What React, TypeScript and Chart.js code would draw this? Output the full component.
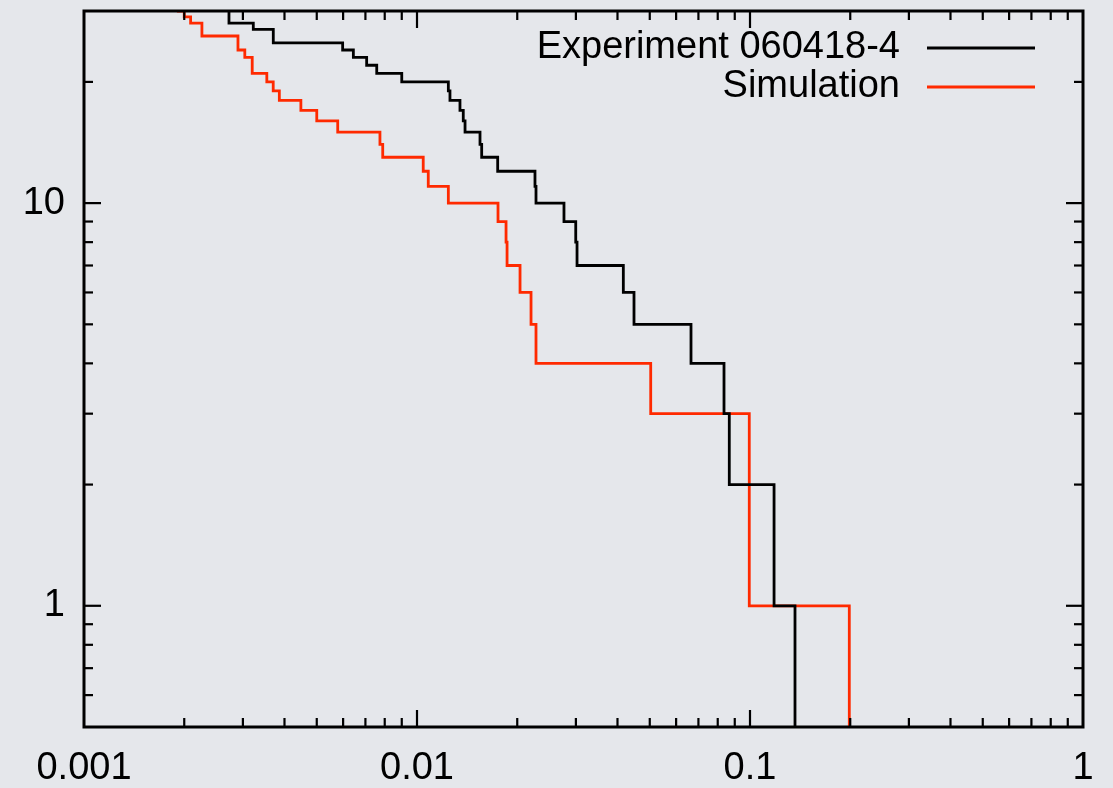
import React, { useEffect, useRef } from 'react';
import { Chart, registerables } from 'chart.js';

Chart.register(...registerables);

// Event size thresholds (x) where each horizontal step starts, and the count level of that step
const expX = [0.001, 0.002725, 0.003224, 0.003702, 0.00598, 0.00644, 0.00706, 0.00757, 0.009, 0.01242, 0.01256, 0.01346, 0.01377, 0.01394, 0.01546, 0.01564, 0.01747, 0.02261, 0.02277, 0.02763, 0.02997, 0.03024, 0.04165, 0.04484, 0.0665, 0.08355, 0.08666, 0.1181, 0.1365];
const expN = [32, 28, 27, 25, 24, 23, 22, 21, 20, 19, 18, 17, 16, 15, 14, 13, 12, 11, 10, 9, 8, 7, 6, 5, 4, 3, 2, 1, 0.3];

const simX = [0.001, 0.00192, 0.002, 0.00209, 0.00226, 0.0029, 0.00304, 0.0032, 0.00354, 0.0037, 0.00386, 0.00448, 0.005, 0.00578, 0.00774, 0.00789, 0.01044, 0.01081, 0.01242, 0.01751, 0.01851, 0.01864, 0.02039, 0.022, 0.02277, 0.05033, 0.0995, 0.1987];
const simN = [32, 30, 29, 28, 26, 24, 23, 21, 20, 19, 18, 17, 16, 15, 14, 13, 12, 11, 10, 9, 8, 7, 6, 5, 4, 3, 1, 0.3];

const seriesLabels = ['Experiment 060418-4', 'Simulation'];
const seriesColors = ['#000000', '#ff2a00'];

const xTickLabels = ['0.001', '0.01', '0.1', '1'];
const yTickLabels = ['1', '10'];

const FONT = '"Liberation Sans", Arial, Helvetica, sans-serif';

function isDecade(v: number) {
  const l = Math.log10(v);
  return Math.abs(l - Math.round(l)) < 1e-6;
}

function labelFor(v: number, labels: string[]) {
  const hit = labels.find((s) => Math.abs(Math.log10(parseFloat(s)) - Math.log10(v)) < 1e-6);
  return hit === undefined ? null : hit;
}

// log-scale tick values 1..9 x 10^e within [min, max]
function logTicks(min: number, max: number) {
  const out: number[] = [];
  for (let e = Math.floor(Math.log10(min)); e <= Math.ceil(Math.log10(max)); e++) {
    for (let m = 1; m <= 9; m++) {
      const v = parseFloat((m * Math.pow(10, e)).toPrecision(6));
      if (v >= min * 0.999999 && v <= max * 1.000001) out.push(v);
    }
  }
  return out;
}

const framePlugin = {
  id: 'frameTicksLegend',
  afterDatasetsDraw(chart: any) {
    const { ctx, chartArea: a, scales } = chart;
    ctx.save();
    ctx.strokeStyle = '#000';
    ctx.lineWidth = 2.2;
    const seg = (x1: number, y1: number, x2: number, y2: number) => {
      ctx.beginPath();
      ctx.moveTo(x1, y1);
      ctx.lineTo(x2, y2);
      ctx.stroke();
    };
    for (const v of logTicks(scales.x.min, scales.x.max)) {
      const px = scales.x.getPixelForValue(v);
      if (px <= a.left + 1 || px >= a.right - 1) continue;
      const len = isDecade(v) ? 17 : 9;
      seg(px, a.bottom, px, a.bottom - len);
      seg(px, a.top, px, a.top + len);
    }
    for (const v of logTicks(scales.y.min, scales.y.max)) {
      const py = scales.y.getPixelForValue(v);
      if (py <= a.top + 1 || py >= a.bottom - 1) continue;
      const len = isDecade(v) ? 17 : 9;
      seg(a.left, py, a.left + len, py);
      seg(a.right, py, a.right - len, py);
    }
    ctx.lineWidth = 3;
    ctx.strokeRect(a.left, a.top, a.right - a.left, a.bottom - a.top);

    // legend (top-right, inside plot)
    ctx.font = `38px ${FONT}`;
    ctx.textAlign = 'right';
    ctx.textBaseline = 'middle';
    chart.data.datasets.forEach((ds: any, i: number) => {
      const y = a.top + 37 + i * 39;
      ctx.fillStyle = '#000';
      ctx.fillText(ds.label, a.right - 183, y);
      ctx.strokeStyle = ds.borderColor;
      ctx.lineWidth = 2.8;
      seg(a.right - 156, y, a.right - 48, y);
    });
    ctx.restore();
  },
};

export default function App() {
  const ref = useRef<HTMLCanvasElement | null>(null);

  useEffect(() => {
    if (!ref.current) return;
    const chart = new Chart(ref.current, {
      type: 'line',
      data: {
        datasets: [
          {
            label: seriesLabels[0],
            data: expX.map((x, i) => ({ x, y: expN[i] })),
            borderColor: seriesColors[0],
            borderWidth: 2.8,
            pointRadius: 0,
            stepped: true,
            fill: false,
          },
          {
            label: seriesLabels[1],
            data: simX.map((x, i) => ({ x, y: simN[i] })),
            borderColor: seriesColors[1],
            borderWidth: 2.8,
            pointRadius: 0,
            stepped: true,
            fill: false,
          },
        ],
      },
      options: {
        animation: false,
        responsive: false,
        layout: { padding: { top: 11, right: 30, left: 0, bottom: 0 } },
        plugins: {
          legend: { display: false },
          tooltip: { enabled: false },
        },
        scales: {
          x: {
            type: 'logarithmic',
            min: 0.001,
            max: 1,
            grid: { display: false, drawTicks: false },
            border: { display: false },
            afterFit: (s: any) => {
              s.height = 61;
              s.paddingLeft = 0;
              s.paddingRight = 0;
            },
            ticks: {
              autoSkip: false,
              maxRotation: 0,
              padding: 19,
              color: '#000',
              font: { family: FONT, size: 38 },
              callback: (v: any) => labelFor(Number(v), xTickLabels),
            },
          },
          y: {
            type: 'logarithmic',
            min: 0.5,
            max: 30,
            grid: { display: false, drawTicks: false },
            border: { display: false },
            afterFit: (s: any) => {
              s.width = 84;
              s.paddingTop = 0;
              s.paddingBottom = 0;
            },
            ticks: {
              autoSkip: false,
              padding: 19,
              color: '#000',
              font: { family: FONT, size: 38 },
              callback: (v: any) => labelFor(Number(v), yTickLabels),
            },
          },
        },
      },
      plugins: [framePlugin],
    });
    return () => chart.destroy();
  }, []);

  return (
    <div
      style={{
        position: 'fixed',
        left: 0,
        top: 0,
        width: 1113,
        height: 788,
        background: '#e5e7eb',
      }}
    >
      <canvas ref={ref} width={1113} height={788} style={{ display: 'block' }} />
    </div>
  );
}
